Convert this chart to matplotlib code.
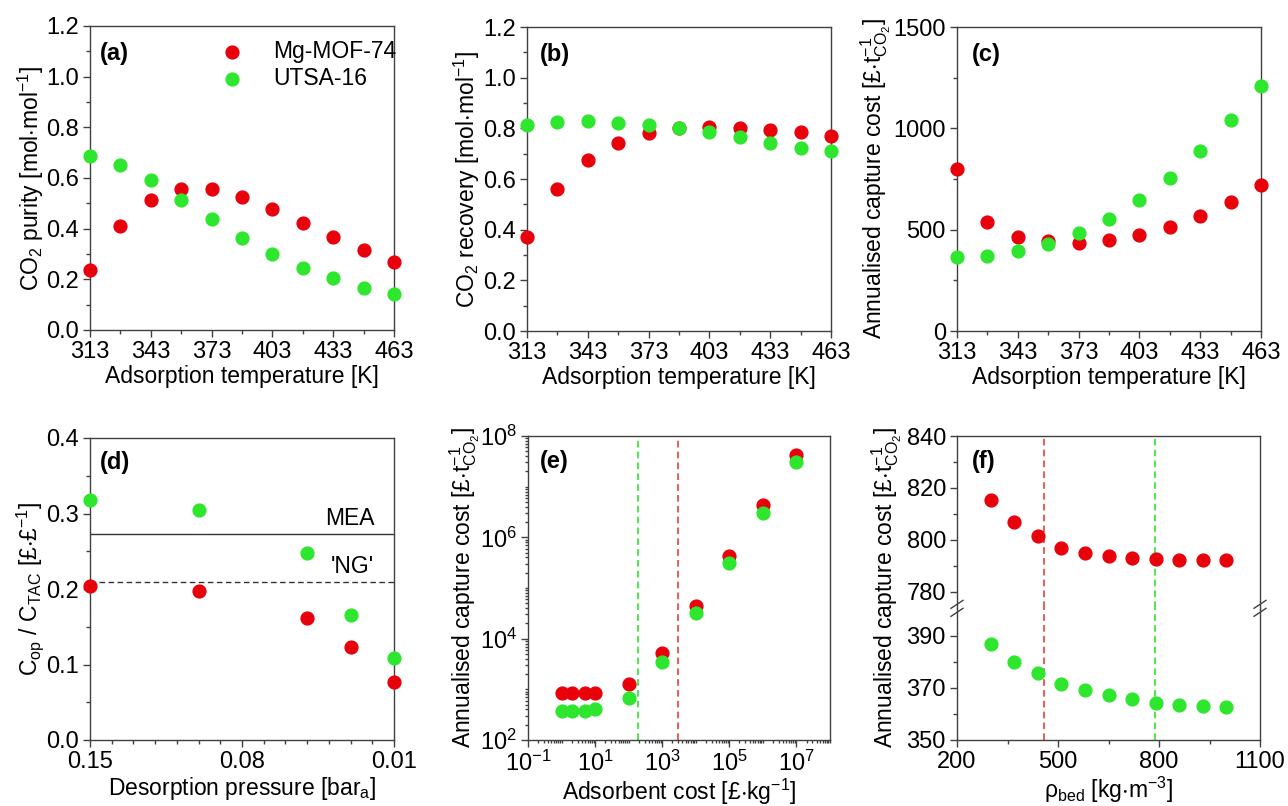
import numpy as np
import matplotlib
matplotlib.use("Agg")
import matplotlib.pyplot as plt
from matplotlib.ticker import MultipleLocator, LogLocator, NullFormatter, FixedLocator

plt.rcParams['font.family'] = ['Liberation Sans', 'DejaVu Sans']
plt.rcParams['mathtext.default'] = 'regular'
plt.rcParams['font.size'] = 16

RED = '#e8000b'
GREEN = '#2ee62e'
EDGE = '#404040'
TICK_FS = 17
LAB_FS = 16.5

# (a)-(c) adsorption temperature sweep
T_ads = [313, 328, 343, 358, 373, 388, 403, 418, 433, 448, 463]
purity_mg = [0.237, 0.412, 0.513, 0.557, 0.557, 0.526, 0.478, 0.422, 0.367, 0.316, 0.268]
purity_ut = [0.686, 0.653, 0.592, 0.514, 0.437, 0.364, 0.300, 0.246, 0.204, 0.167, 0.141]
recov_mg = [0.371, 0.561, 0.674, 0.742, 0.782, 0.800, 0.807, 0.803, 0.795, 0.785, 0.770]
recov_ut = [0.812, 0.825, 0.827, 0.821, 0.812, 0.800, 0.785, 0.765, 0.741, 0.723, 0.710]
cost_T_mg = [798, 540, 462, 445, 434, 448, 473, 514, 568, 637, 721]
cost_T_ut = [363, 371, 393, 430, 486, 555, 646, 756, 887, 1040, 1211]
T_ticks = [313, 343, 373, 403, 433, 463]

# (d) desorption pressure
p_des = [0.15, 0.10, 0.05, 0.03, 0.01]
ratio_mg = [0.204, 0.198, 0.161, 0.123, 0.077]
ratio_ut = [0.3175, 0.304, 0.248, 0.165, 0.109]
mea_ratio = 0.273
ng_ratio = 0.209
p_ticks = [0.15, 0.08, 0.01]

# (e) adsorbent cost
ads_cost = [1, 2, 5, 10, 100, 1e3, 1e4, 1e5, 1e6, 1e7]
cost_ads_mg = [835, 835, 840, 850, 1256, 5300, 44700, 434000, 4.27e6, 4.2e7]
cost_ads_ut = [373, 373, 380, 403, 685, 3520, 31600, 307000, 3.07e6, 3.02e7]
be_ads_ut = 194
be_ads_mg = 2990

# (f) bed density
rho_bed = [300, 370, 440, 510, 580, 650, 720, 790, 860, 930, 1000]
cost_rho_mg = [815.3, 806.8, 801.6, 796.7, 794.8, 793.7, 793.0, 792.4, 792.2, 792.1, 792.2]
cost_rho_ut = [386.8, 380.1, 375.6, 371.7, 369.2, 367.3, 365.6, 364.2, 363.5, 363.1, 362.8]
rho_mg = 458
rho_ut = 788
rho_ticks = [200, 500, 800, 1100]

W, H = 1288, 806
fig = plt.figure(figsize=(W / 100, H / 100), dpi=100)


def axes_px(l, r, t, b):
    return fig.add_axes([l / W, 1 - b / H, (r - l) / W, (b - t) / H])


def style(ax):
    for s in ax.spines.values():
        s.set_color(EDGE)
        s.set_linewidth(1.0)
    ax.tick_params(which='both', direction='out', top=False, right=False,
                   color=EDGE, labelsize=TICK_FS, pad=3)
    ax.tick_params(which='major', length=5, width=1)
    ax.tick_params(which='minor', length=3, width=1)


def panel_label(ax, txt, x, y=0.91):
    ax.text(x, y, txt, transform=ax.transAxes, fontweight='bold',
            fontsize=17, va='center')


def temp_axis(ax):
    ax.set_xlim(313, 463)
    ax.xaxis.set_major_locator(FixedLocator(T_ticks))
    ax.xaxis.set_minor_locator(FixedLocator(list(range(328, 463, 30))))
    ax.set_xlabel('Adsorption temperature [K]', fontsize=LAB_FS, labelpad=1)


def odd_pow(v, p):
    e = int(round(np.log10(v)))
    return f'$10^{{{e}}}$'


ms = 85
cost_lbl = r'Annualised capture cost [£$\cdot$t$^{-1}_{CO_2}$]'

# (a)
ax = axes_px(90, 394, 26, 330)
ax.scatter(T_ads, purity_mg, s=ms, color=RED, label='Mg-MOF-74', zorder=3, clip_on=False)
ax.scatter(T_ads, purity_ut, s=ms, color=GREEN, label='UTSA-16', zorder=4, clip_on=False)
temp_axis(ax)
ax.set_ylim(0, 1.2)
ax.yaxis.set_major_locator(MultipleLocator(0.2))
ax.yaxis.set_minor_locator(MultipleLocator(0.1))
ax.yaxis.set_major_formatter(lambda v, p: f'{v:.1f}')
ax.set_ylabel(r'CO$_2$ purity [mol$\cdot$mol$^{-1}$]', fontsize=LAB_FS, labelpad=0)
style(ax)
panel_label(ax, '(a)', 0.033)
ax.legend(loc='upper left', frameon=False, fontsize=LAB_FS, handletextpad=1.3,
          handlelength=1.0, borderaxespad=0, labelspacing=0.2,
          bbox_to_anchor=(0.40, 0.985))

# (b)
ax = axes_px(527, 831, 27, 331)
ax.scatter(T_ads, recov_mg, s=ms, color=RED, zorder=3, clip_on=False)
ax.scatter(T_ads, recov_ut, s=ms, color=GREEN, zorder=4, clip_on=False)
temp_axis(ax)
ax.set_ylim(0, 1.2)
ax.yaxis.set_major_locator(MultipleLocator(0.2))
ax.yaxis.set_minor_locator(MultipleLocator(0.1))
ax.yaxis.set_major_formatter(lambda v, p: f'{v:.1f}')
ax.set_ylabel(r'CO$_2$ recovery [mol$\cdot$mol$^{-1}$]', fontsize=LAB_FS, labelpad=1)
style(ax)
panel_label(ax, '(b)', 0.043)

# (c)
ax = axes_px(957, 1261, 27, 331)
ax.scatter(T_ads, cost_T_mg, s=ms, color=RED, zorder=3, clip_on=False)
ax.scatter(T_ads, cost_T_ut, s=ms, color=GREEN, zorder=4, clip_on=False)
temp_axis(ax)
ax.set_ylim(0, 1500)
ax.yaxis.set_major_locator(MultipleLocator(500))
ax.yaxis.set_minor_locator(MultipleLocator(250))
ax.set_ylabel(cost_lbl, fontsize=LAB_FS, labelpad=0)
style(ax)
panel_label(ax, '(c)', 0.05)

# (d)
ax = axes_px(90, 394, 438, 740)
ax.scatter(p_des, ratio_mg, s=ms, color=RED, zorder=3, clip_on=False)
ax.scatter(p_des, ratio_ut, s=ms, color=GREEN, zorder=4, clip_on=False)
ax.axhline(mea_ratio, color='#333333', lw=1.0)
ax.axhline(ng_ratio, color='#333333', lw=1.0, ls=(0, (4, 2.5)))
ax.text(0.935, mea_ratio + 0.005, 'MEA', transform=ax.get_yaxis_transform(),
        ha='right', va='bottom', fontsize=LAB_FS)
ax.text(0.935, ng_ratio + 0.006, "'NG'", transform=ax.get_yaxis_transform(),
        ha='right', va='bottom', fontsize=LAB_FS)
ax.set_xlim(0.15, 0.01)
ax.set_ylim(0, 0.4)
ax.xaxis.set_major_locator(FixedLocator(p_ticks))
ax.xaxis.set_minor_locator(FixedLocator([k / 100 for k in range(2, 15) if k != 8]))
ax.xaxis.set_major_formatter(lambda v, p: f'{v:.2f}')
ax.yaxis.set_major_locator(MultipleLocator(0.1))
ax.yaxis.set_minor_locator(MultipleLocator(0.05))
ax.yaxis.set_major_formatter(lambda v, p: f'{v:.1f}')
ax.set_xlabel(r'Desorption pressure [bar$_a$]', fontsize=LAB_FS, labelpad=1)
ax.set_ylabel(r'C$_{op}$ / C$_{TAC}$ [£$\cdot$£$^{-1}$]', fontsize=LAB_FS, labelpad=0)
style(ax)
panel_label(ax, '(d)', 0.033, 0.92)

# (e)
ax = axes_px(528, 830, 436, 740)
ax.scatter(ads_cost, cost_ads_mg, s=ms, color=RED, zorder=3, clip_on=False)
ax.scatter(ads_cost, cost_ads_ut, s=ms, color=GREEN, zorder=4, clip_on=False)
ax.axvline(be_ads_ut, color=GREEN, lw=1.2, ls=(0, (4, 2.5)))
ax.axvline(be_ads_mg, color='#e84040', lw=1.2, ls=(0, (4, 2.5)))
ax.set_xscale('log')
ax.set_yscale('log')
ax.set_xlim(1e-1, 1e8)
ax.set_ylim(1e2, 1e8)
ax.xaxis.set_major_locator(FixedLocator([1e-1, 1e1, 1e3, 1e5, 1e7]))
ax.xaxis.set_major_formatter(odd_pow)
ax.xaxis.set_minor_locator(LogLocator(base=10, subs=np.arange(1, 10), numticks=30))
ax.xaxis.set_minor_formatter(NullFormatter())
ax.yaxis.set_major_locator(FixedLocator([1e2, 1e4, 1e6, 1e8]))
ax.yaxis.set_major_formatter(odd_pow)
ax.yaxis.set_minor_locator(LogLocator(base=10, subs=np.arange(1, 10), numticks=30))
ax.yaxis.set_minor_formatter(NullFormatter())
ax.set_xlabel(r'Adsorbent cost [£$\cdot$kg$^{-1}$]', fontsize=LAB_FS, labelpad=0)
ax.set_ylabel(cost_lbl, fontsize=LAB_FS, labelpad=-2)
style(ax)
ax.tick_params(which='minor', length=2.5)
panel_label(ax, '(e)', 0.04, 0.915)

# (f) broken y axis
top_b = 436 + 517 / 3
ax_t = axes_px(957, 1260, 436, top_b)
ax_b = axes_px(957, 1260, top_b, 740)
ax_t.scatter(rho_bed, cost_rho_mg, s=ms, color=RED, zorder=3)
ax_b.scatter(rho_bed, cost_rho_ut, s=ms, color=GREEN, zorder=3)
for a in (ax_t, ax_b):
    a.axvline(rho_mg, color='#e84040', lw=1.2, ls=(0, (4, 2.5)))
    a.axvline(rho_ut, color=GREEN, lw=1.2, ls=(0, (4, 2.5)))
    a.set_xlim(200, 1100)
    a.xaxis.set_major_locator(FixedLocator(rho_ticks))
    a.xaxis.set_minor_locator(FixedLocator([350, 650, 950]))
    style(a)
ax_t.set_ylim(840 - 517 / 7.78, 840)
ax_b.set_ylim(350, 350 + 395 / 7.8)
ax_t.yaxis.set_major_locator(FixedLocator([780, 800, 820, 840]))
ax_t.yaxis.set_minor_locator(FixedLocator([790, 810, 830]))
ax_b.yaxis.set_major_locator(FixedLocator([350, 370, 390]))
ax_b.yaxis.set_minor_locator(FixedLocator([360, 380]))
ax_t.spines['bottom'].set_visible(False)
ax_b.spines['top'].set_visible(False)
ax_t.tick_params(which='both', bottom=False, labelbottom=False)
ax_b.set_xlabel(r'$\rho_{bed}$ [kg$\cdot$m$^{-3}$]', fontsize=LAB_FS, labelpad=1)
fig.text(887 / W, 1 - 588 / H, cost_lbl, rotation=90, ha='center', va='center',
         fontsize=LAB_FS)
# break marks
for xx in (957, 1260):
    for dy in (-4, 4):
        yy = top_b + dy
        fig.add_artist(plt.Line2D([(xx - 6) / W, (xx + 6) / W],
                                  [1 - (yy + 4) / H, 1 - (yy - 4) / H],
                                  color=EDGE, lw=1.0))
panel_label(ax_t, '(f)', 0.05, 0.85)

fig.savefig('out.png', dpi=100)
